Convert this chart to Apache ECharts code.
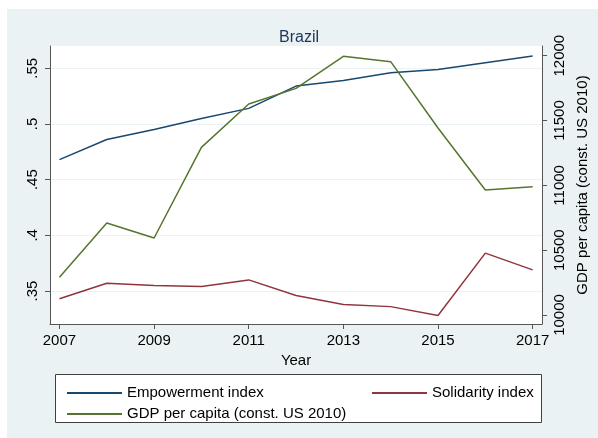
<!DOCTYPE html>
<html>
<head>
<meta charset="utf-8">
<script src="https://cdn.jsdelivr.net/npm/echarts@6/dist/echarts.min.js"></script>
<style>
html,body{margin:0;padding:0;background:#fff;}
#chart{width:598px;height:438px;}
</style>
</head>
<body>
<div id="chart"></div>
<script>
// ---- Data ----
var years = [2007, 2008, 2009, 2010, 2011, 2012, 2013, 2014, 2015, 2016, 2017];
var empowerment = [0.468, 0.486, 0.495, 0.505, 0.514, 0.534, 0.539, 0.546, 0.549, 0.555, 0.561];
var solidarity = [0.343, 0.357, 0.355, 0.354, 0.360, 0.346, 0.338, 0.336, 0.328, 0.384, 0.369];
var gdp = [10291, 10710, 10594, 11293, 11627, 11748, 11995, 11954, 11442, 10964, 10990];

var xTicks = [2007, 2009, 2011, 2013, 2015, 2017];
var leftTickValues = [0.35, 0.4, 0.45, 0.5, 0.55];
var leftTickLabels = ['.35', '.4', '.45', '.5', '.55'];
var rightTickValues = [10000, 10500, 11000, 11500, 12000];
var rightTickLabels = ['10000', '10500', '11000', '11500', '12000'];

var seriesNames = ['Empowerment index', 'Solidarity index', 'GDP per capita (const. US 2010)'];
var titleText = 'Brazil';
var xName = 'Year';
var rightName = 'GDP per capita (const. US 2010)';

function pairs(vals) { return years.map(function (y, i) { return [y, vals[i]]; }); }
function fmt(values, labels) {
  return function (v) {
    for (var i = 0; i < values.length; i++) if (Math.abs(values[i] - v) < 1e-6) return labels[i];
    return '';
  };
}

var FONT = '"Liberation Sans", Arial, sans-serif';
var BG = '#EAF2F3';
var AX = '#555555';
var colors = ['#1A476F', '#90353B', '#55752F'];

var chart = echarts.init(document.getElementById('chart'), null, {renderer: 'canvas'});
chart.setOption({
  backgroundColor: '#ffffff',
  animation: false,
  textStyle: {fontFamily: FONT},
  graphic: [
    {type: 'rect', z: -10, silent: true, shape: {x: 7, y: 9, width: 591, height: 429}, style: {fill: BG}},
    {type: 'rect', z: 10, silent: true, shape: {x: 55.5, y: 374.5, width: 486, height: 48}, style: {fill: '#ffffff', stroke: '#404040', lineWidth: 1}}
  ],
  title: {
    text: titleText, left: 'center', top: 25,
    textStyle: {fontFamily: FONT, fontSize: 16, fontWeight: 'normal', color: '#1c3557'}
  },
  legend: [
    {
      data: [seriesNames[0], seriesNames[2]], orient: 'vertical', left: 62, top: 379, z: 20,
      icon: 'rect', itemWidth: 55, itemHeight: 2, itemGap: 3,
      textStyle: {fontFamily: FONT, fontSize: 15, color: '#000', lineHeight: 18},
      selectedMode: false
    },
    {
      data: [seriesNames[1]], orient: 'vertical', left: 367, top: 379, z: 20,
      icon: 'rect', itemWidth: 55, itemHeight: 2, itemGap: 3,
      textStyle: {fontFamily: FONT, fontSize: 15, color: '#000', lineHeight: 18},
      selectedMode: false
    }
  ],
  grid: {left: 50, right: 51, top: 46, bottom: 114, show: true, backgroundColor: '#ffffff', borderWidth: 0, containLabel: false},
  xAxis: {
    type: 'value', min: 2006.8, max: 2017.2,
    name: xName, nameLocation: 'middle', nameGap: 25,
    nameTextStyle: {fontFamily: FONT, fontSize: 15, color: '#000'},
    axisLine: {show: true, lineStyle: {color: AX, width: 1}},
    axisTick: {show: true, length: 5, lineStyle: {color: AX}, customValues: xTicks},
    axisLabel: {fontFamily: FONT, fontSize: 15, color: '#000', margin: 9, customValues: xTicks, formatter: function (v) { return String(v); }},
    splitLine: {show: false}
  },
  yAxis: [
    {
      type: 'value', position: 'left', min: 0.3204, max: 0.5700,
      axisLine: {show: true, lineStyle: {color: AX, width: 1}},
      axisTick: {show: true, length: 5, lineStyle: {color: AX}, customValues: leftTickValues},
      axisLabel: {fontFamily: FONT, fontSize: 15, color: '#000', rotate: 90, margin: 10, customValues: leftTickValues, formatter: fmt(leftTickValues, leftTickLabels)},
      splitLine: {show: true, lineStyle: {color: BG, width: 1}}
    },
    {
      type: 'value', position: 'right', min: 9930.6, max: 12074.8,
      name: rightName, nameLocation: 'middle', nameGap: 23, nameRotate: 90,
      nameTextStyle: {fontFamily: FONT, fontSize: 15, color: '#000'},
      axisLine: {show: true, lineStyle: {color: AX, width: 1}},
      axisTick: {show: true, length: 5, lineStyle: {color: AX}, customValues: rightTickValues},
      axisLabel: {fontFamily: FONT, fontSize: 15, color: '#000', rotate: 90, margin: 10, customValues: rightTickValues, formatter: fmt(rightTickValues, rightTickLabels)},
      splitLine: {show: false}
    }
  ],
  series: [
    {name: seriesNames[0], type: 'line', yAxisIndex: 0, data: pairs(empowerment), symbol: 'none', lineStyle: {color: colors[0], width: 1.5}, itemStyle: {color: colors[0]}},
    {name: seriesNames[1], type: 'line', yAxisIndex: 0, data: pairs(solidarity), symbol: 'none', lineStyle: {color: colors[1], width: 1.5}, itemStyle: {color: colors[1]}},
    {name: seriesNames[2], type: 'line', yAxisIndex: 1, data: pairs(gdp), symbol: 'none', lineStyle: {color: colors[2], width: 1.5}, itemStyle: {color: colors[2]}}
  ]
});
</script>
</body>
</html>
